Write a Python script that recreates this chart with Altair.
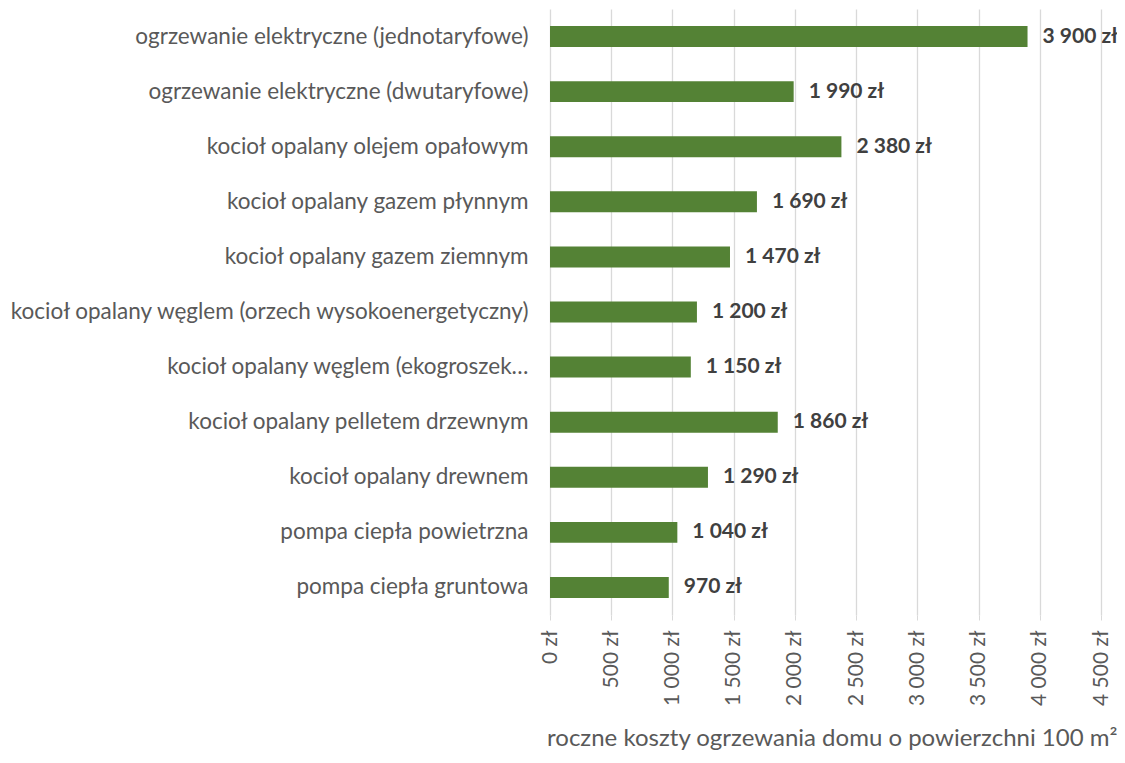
import altair as alt
import pandas as pd

categories = [
    "ogrzewanie elektryczne (jednotaryfowe)",
    "ogrzewanie elektryczne (dwutaryfowe)",
    "kocioł opalany olejem opałowym",
    "kocioł opalany gazem płynnym",
    "kocioł opalany gazem ziemnym",
    "kocioł opalany węglem (orzech wysokoenergetyczny)",
    "kocioł opalany węglem (ekogroszek…",
    "kocioł opalany pelletem drzewnym",
    "kocioł opalany drewnem",
    "pompa ciepła powietrzna",
    "pompa ciepła gruntowa",
]
costs = [3900, 1990, 2380, 1690, 1470, 1200, 1150, 1860, 1290, 1040, 970]
x_ticks = [0, 500, 1000, 1500, 2000, 2500, 3000, 3500, 4000, 4500]


def fmt(v):
    return f"{v:,}".replace(",", " ") + " zł"


df = pd.DataFrame({"cat": categories, "cost": costs, "label": [fmt(v) for v in costs]})

FONT = "Lato"

x = alt.X(
    "cost:Q",
    scale=alt.Scale(domain=[0, 4500], nice=False),
    axis=alt.Axis(
        values=x_ticks,
        labelExpr="replace(format(datum.value, ',d'), ',', ' ') + ' zł'",
        labelAngle=-90,
        labelFont=FONT,
        labelFontSize=21,
        labelColor="#595959",
        labelPadding=10,
        grid=True,
        gridColor="#d9d9d9",
        gridWidth=1.3,
        domain=False,
        tickColor="#d9d9d9",
        tickSize=5,
        title="roczne koszty ogrzewania domu o powierzchni 100 m²",
        titleFont=FONT,
        titleFontSize=24,
        titleFontWeight="normal",
        titleColor="#595959",
        titleAnchor="end",
        titleAlign="right",
        titleBaseline="top",
        titleX=567,
        titleY=111,
    ),
)
y = alt.Y(
    "cat:N",
    sort=categories,
    scale=alt.Scale(paddingInner=0.62, paddingOuter=0.31),
    axis=alt.Axis(
        title=None,
        labelFont=FONT,
        labelFontSize=22.5,
        labelColor="#595959",
        labelPadding=22,
        labelLimit=700,
        ticks=False,
        domain=False,
    ),
)

bars = alt.Chart(df).mark_bar(color="#548235").encode(x=x, y=y)
text = alt.Chart(df).mark_text(
    align="left", baseline="middle", dx=15, font=FONT, fontSize=21,
    fontWeight="bold", color="#404040"
).encode(x="cost:Q", y=alt.Y("cat:N", sort=categories), text="label:N")

chart = (bars + text).properties(
    width=551,
    height=606,
    autosize=alt.AutoSizeParams(type="none"),
    padding={"left": 542, "top": 1, "right": 16, "bottom": 140},
).configure_view(stroke=None)

chart.save("out.html", embed_options={"renderer": "svg", "actions": False})
